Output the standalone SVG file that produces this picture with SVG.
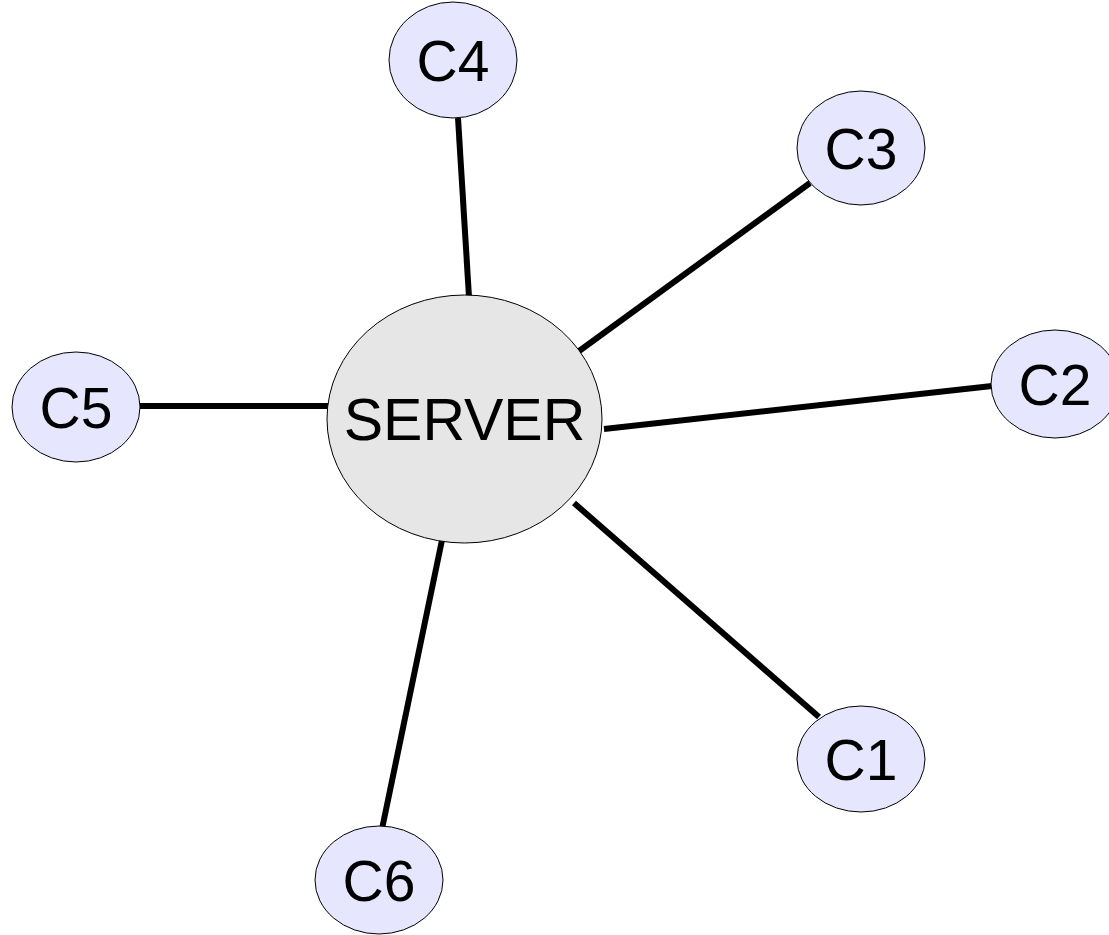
<svg xmlns="http://www.w3.org/2000/svg" width="1109" height="935" viewBox="0 0 1109 935">
  <style>
    .link { stroke: #000; stroke-width: 6; fill: none; }
    .client { fill: #e6e6ff; stroke: #000; stroke-width: 1; }
    .server { fill: #e6e6e6; stroke: #000; stroke-width: 1; }
    .label { font-family: "Liberation Sans", Arial, sans-serif; font-size: 57px; fill: #000; text-anchor: middle; }
    .big { font-size: 59px; }
  </style>
  <rect width="1109" height="935" fill="#fff"/>
  <g id="connectors">
    <line class="link" x1="458" y1="118" x2="469" y2="297"/>
    <line class="link" x1="575" y1="354" x2="810" y2="183"/>
    <line class="link" x1="604" y1="429" x2="992" y2="386"/>
    <line class="link" x1="140" y1="406" x2="329" y2="406"/>
    <line class="link" x1="574" y1="503" x2="819" y2="717"/>
    <line class="link" x1="442" y1="540" x2="382" y2="829"/>
  </g>
  <g id="server">
    <ellipse class="server" cx="464.5" cy="419" rx="137.5" ry="124"/>
    <text class="label big" x="464.5" y="440">SERVER</text>
  </g>
  <g id="c1">
    <ellipse class="client" cx="861" cy="759" rx="64" ry="53"/>
    <text class="label" x="861" y="780">C1</text>
  </g>
  <g id="c2">
    <ellipse class="client" cx="1055" cy="384" rx="64" ry="54"/>
    <text class="label" x="1055" y="405">C2</text>
  </g>
  <g id="c3">
    <ellipse class="client" cx="861" cy="148" rx="64" ry="57"/>
    <text class="label" x="861" y="169">C3</text>
  </g>
  <g id="c4">
    <ellipse class="client" cx="453" cy="60" rx="64" ry="58"/>
    <text class="label" x="453" y="81">C4</text>
  </g>
  <g id="c5">
    <ellipse class="client" cx="76" cy="407" rx="64" ry="55"/>
    <text class="label" x="76" y="428">C5</text>
  </g>
  <g id="c6">
    <ellipse class="client" cx="379" cy="880" rx="64" ry="54"/>
    <text class="label" x="379" y="901">C6</text>
  </g>
</svg>
